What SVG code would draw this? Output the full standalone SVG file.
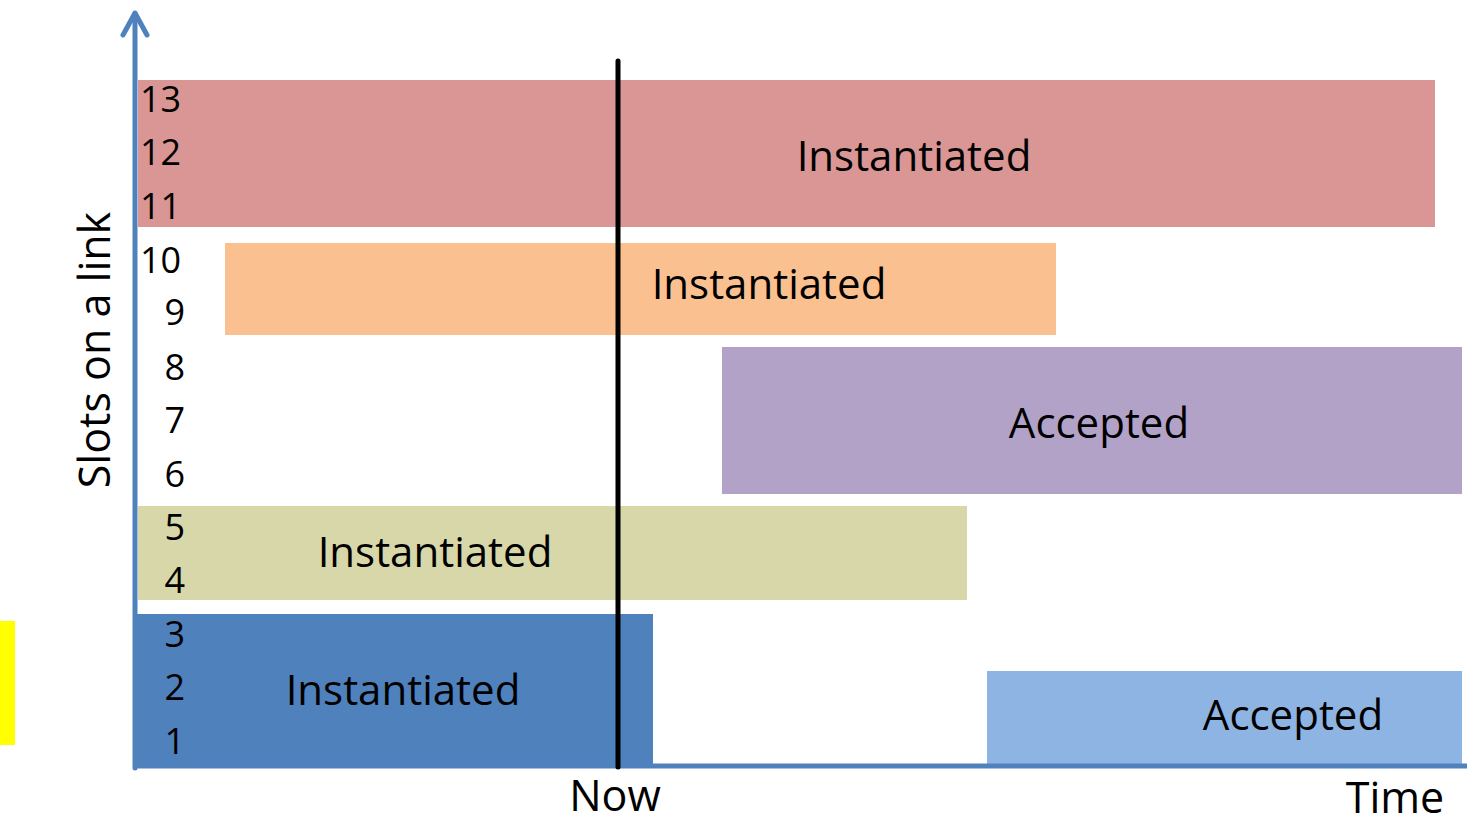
<svg xmlns="http://www.w3.org/2000/svg" width="1467" height="825" viewBox="0 0 1467 825">
<style>
text{font-family:"Open Sans","Liberation Sans",sans-serif;fill:#000}
.num{font-size:36px}
.lbl{font-size:42px;text-anchor:middle}
.ax{font-size:43px}
</style>
<rect width="1467" height="825" fill="#fff"/>
<rect x="0" y="621" width="15" height="124" fill="#ffff00"/>
<g id="slot11-13"><rect x="138" y="80" width="1297" height="147" fill="#D99694"/><text class="lbl" x="914" y="171">Instantiated</text></g>
<g id="slot9-10"><rect x="225" y="243" width="831" height="92" fill="#FAC090"/><text class="lbl" x="769" y="299">Instantiated</text></g>
<g id="slot6-8"><rect x="722" y="347" width="740" height="147" fill="#B3A2C7"/><text class="lbl" x="1099" y="438">Accepted</text></g>
<g id="slot4-5"><rect x="138" y="506" width="829" height="94" fill="#D7D7A9"/><text class="lbl" x="435" y="567">Instantiated</text></g>
<g id="slot1-3"><rect x="133" y="614" width="520" height="154" fill="#4F81BD"/><text class="lbl" x="403" y="705">Instantiated</text></g>
<g id="slot1-2-acc"><rect x="987" y="671" width="475" height="93" fill="#8EB4E3"/><text class="lbl" x="1293" y="730">Accepted</text></g>
<g id="connectors" fill="none" stroke-linecap="round" stroke-linejoin="round">
<line x1="135" y1="14" x2="135" y2="768" stroke="#4F81BD" stroke-width="5"/>
<polyline points="123,35 135,13 147,35" stroke="#4F81BD" stroke-width="5"/>
<line x1="133" y1="766" x2="1467" y2="766" stroke="#4F81BD" stroke-width="5" stroke-linecap="butt"/>
<line x1="618" y1="61" x2="618" y2="767" stroke="#000" stroke-width="5"/>
</g>
<g id="numbers">
<text class="num" x="140" y="112">13</text>
<text class="num" x="140" y="165">12</text>
<text class="num" x="140" y="219">11</text>
<text class="num" x="140" y="273">10</text>
<text class="num" x="185" y="325" text-anchor="end">9</text>
<text class="num" x="185" y="380" text-anchor="end">8</text>
<text class="num" x="185" y="433" text-anchor="end">7</text>
<text class="num" x="185" y="487" text-anchor="end">6</text>
<text class="num" x="185" y="540" text-anchor="end">5</text>
<text class="num" x="185" y="593" text-anchor="end">4</text>
<text class="num" x="185" y="647" text-anchor="end">3</text>
<text class="num" x="185" y="700" text-anchor="end">2</text>
<text class="num" x="185" y="754" text-anchor="end">1</text>
</g>
<g id="axis-labels">
<text class="ax" x="615" y="811" text-anchor="middle" font-size="44">Now</text>
<text class="ax" x="1395" y="813" text-anchor="middle" font-size="42">Time</text>
<text class="ax" transform="translate(110,350) rotate(-90)" text-anchor="middle">Slots on a link</text>
</g>
</svg>
